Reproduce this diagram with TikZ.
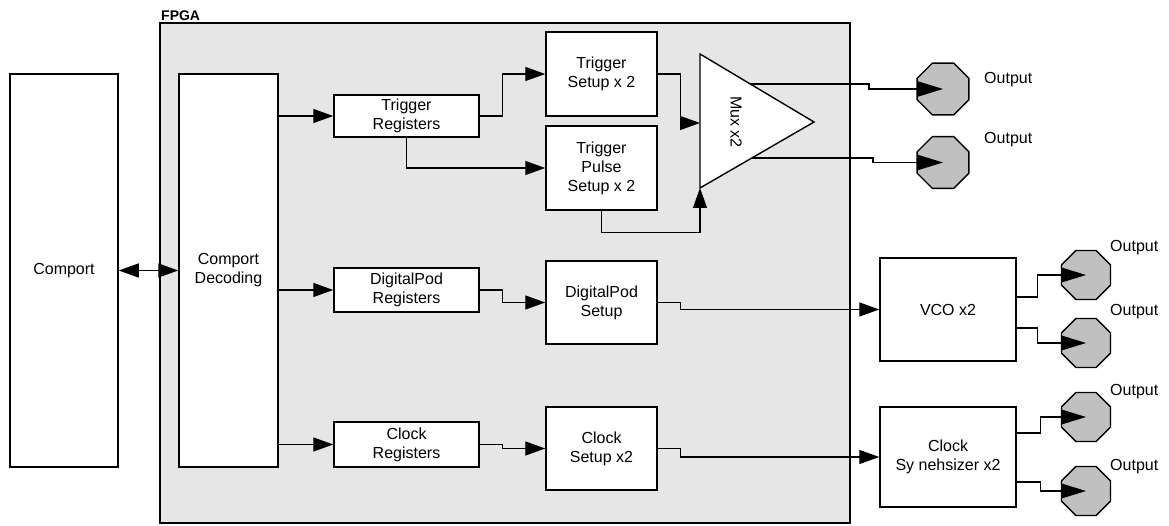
\documentclass[tikz,border=0pt]{standalone}
\usepackage{fontspec}
\setmainfont{Liberation Sans}
\usetikzlibrary{arrows.meta,shapes.geometric}
\definecolor{fpgafill}{HTML}{E6E6E6}
\definecolor{octfill}{HTML}{C0C0C0}
\begin{document}
\begin{tikzpicture}[x=1pt,y=-1pt,
  lbl/.style={font=\fontsize{16}{19}\selectfont},
  box/.style={draw,line width=1.5pt,fill=white,inner sep=0pt,align=center,lbl},
  wire/.style={line width=1.4pt,-{Triangle[length=20pt,width=14pt]}},
  dwire/.style={line width=1.4pt,{Triangle[length=20pt,width=14pt]}-{Triangle[length=20pt,width=14pt]}},
  owire/.style={line width=1.4pt,-{Triangle[length=25pt,width=15pt]}},
  oct/.style={regular polygon,regular polygon sides=8,draw,line width=1.3pt,fill=octfill,inner sep=0pt},
  outlbl/.style={lbl,anchor=west,inner sep=0pt}
]
\useasboundingbox (0,0) rectangle (1169,526);
% FPGA frame
\node[draw,line width=1.8pt,fill=fpgafill,minimum width=690,minimum height=500,inner sep=0pt] (fpga) at (505,273) {};
\node[anchor=south west,inner sep=0pt,font=\bfseries\fontsize{14}{14}\selectfont] (fpgalbl) at (161,20.5) {FPGA};
% blocks
\node[box,minimum width=108,minimum height=393] (comport) at (64,270.5) {Comport};
\node[box,minimum width=99,minimum height=393] (dec) at (228.5,270.5) {Comport\\Decoding};
\node[box,minimum width=145,minimum height=42] (treg) at (406.5,116) {Trigger\\Registers};
\node[box,minimum width=111,minimum height=84] (ts) at (601.5,74) {Trigger\\Setup x 2};
\node[box,minimum width=111,minimum height=84] (tp) at (601.5,168) {Trigger\\Pulse\\Setup x 2};
\node[box,minimum width=145,minimum height=44] (dpreg) at (406.5,290) {DigitalPod\\Registers};
\node[box,minimum width=111,minimum height=83] (dps) at (601.5,302.5) {DigitalPod\\Setup};
\node[box,minimum width=145,minimum height=45] (creg) at (406.5,444.5) {Clock\\Registers};
\node[box,minimum width=111,minimum height=83] (cs) at (601.5,448.5) {Clock\\Setup x2};
\node[box,minimum width=136,minimum height=103] (vco) at (948,309.5) {VCO x2};
\node[box,minimum width=136,minimum height=100] (syn) at (948,457) {Clock\\Sy nehsizer x2};
% mux
\coordinate (mtop) at (700,54);
\coordinate (mbot) at (700,188);
\coordinate (mapex) at (814,122);
\coordinate (min) at (700,123);
\coordinate (mout1) at (750,84);
\coordinate (mout2) at (752,158);
\draw[line width=1.4pt,fill=white] (mtop) -- (mapex) -- (mbot) -- cycle;
\node[lbl,rotate=-90] (muxlbl) at (736,122) {Mux x2};
% output ports
\node[oct,minimum size=56] (o1) at (943,89) {};
\node[oct,minimum size=56] (o2) at (943,162.5) {};
\node[oct,minimum size=53] (o3) at (1086,275) {};
\node[oct,minimum size=53] (o4) at (1086,343) {};
\node[oct,minimum size=53] (o5) at (1086,417) {};
\node[oct,minimum size=53] (o6) at (1086,491) {};
\node[outlbl] (l1) at (984,80) {Output};
\node[outlbl] (l2) at (984,140) {Output};
\node[outlbl] (l3) at (1110,248) {Output};
\node[outlbl] (l4) at (1110,312) {Output};
\node[outlbl] (l5) at (1110,392) {Output};
\node[outlbl] (l6) at (1110,467) {Output};
% connectors
\draw[dwire] (comport.east) -- (dec.west);
\draw[wire] (treg.west -| dec.east) -- (treg.west);
\draw[wire] (dpreg.west -| dec.east) -- (dpreg.west);
\draw[wire] (creg.west -| dec.east) -- (creg.west);
\draw[wire] (treg.east) -- ++(23,0) |- (ts.west);
\draw[wire] (treg.south) |- (tp.west);
\draw[wire] (ts.east) -- ++(23,0) |- (min);
\draw[wire] (tp.south) -- ++(0,22) -| (mbot);
\draw[wire] (dpreg.east) -- ++(23,0) |- (dps.west);
\draw[wire] (creg.east) -- ++(23,0) |- (cs.west);
\draw[wire] (dps.east) -- ++(23,0) |- (vco.west);
\draw[wire] (cs.east) -- ++(23,0) |- (syn.west);
\draw[owire] (mout1) -- ++(119,0) |- (o1.center);
\draw[owire] (mout2) -- ++(121,0) |- (o2.center);
\draw[owire] (vco.east |- 0,297) -- ++(21,0) |- (o3.center);
\draw[owire] (vco.east |- 0,328) -- ++(21,0) |- (o4.center);
\draw[owire] (syn.east |- 0,433) -- ++(24,0) |- (o5.center);
\draw[owire] (syn.east |- 0,482) -- ++(24,0) |- (o6.center);
\end{tikzpicture}
\end{document}
